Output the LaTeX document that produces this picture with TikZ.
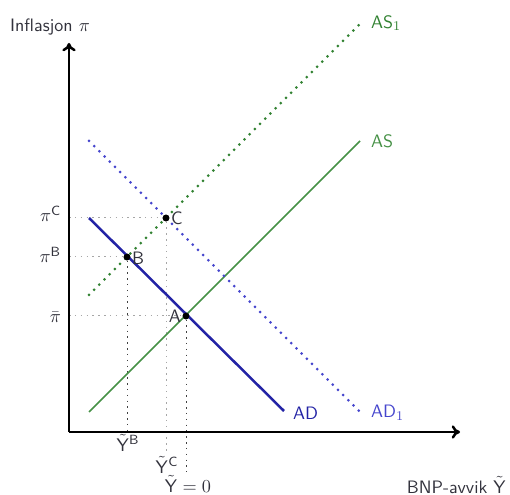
\documentclass[tikz,border=0pt]{standalone}
\usetikzlibrary{arrows.meta}
\definecolor{adblue}{RGB}{35,35,165}
\definecolor{ad1blue}{RGB}{70,70,205}
\definecolor{asgreen}{RGB}{70,145,70}
\definecolor{as1green}{RGB}{50,130,50}
\definecolor{txt}{RGB}{50,50,60}
\newcommand{\tY}{\tilde{\mathsf{Y}}}
\begin{document}
\begin{tikzpicture}[x=0.6pt,y=-0.6pt,
  every node/.style={font=\sffamily\fontsize{10.8}{12}\selectfont, text=txt, inner sep=1pt},
  axis/.style={line width=1.5pt, -{To[length=5pt,width=8pt]}},
  dotcurve/.style={line width=1.8pt, line cap=round, dash pattern=on 0pt off 4.4pt},
  guide/.style={gray!70, line width=0.6pt, dash pattern=on 0.9pt off 2.6pt},
  guidedark/.style={black!75, line width=0.6pt, dash pattern=on 0.9pt off 2.6pt},
  pt/.style={circle, fill=black, inner sep=0pt, minimum size=4pt}
]
\useasboundingbox (0,0) rectangle (510,495);
% axes
\coordinate (O) at (69,432);
\coordinate (ytop) at (69,43);
\coordinate (xend) at (460,432);
% curve end points
\coordinate (as0) at (89,412);  \coordinate (as1) at (360,141);
\coordinate (asd0) at (89,295); \coordinate (asd1) at (362,22);
\coordinate (ad0) at (89,218);  \coordinate (ad1) at (284,411);
\coordinate (add0) at (89,141); \coordinate (add1) at (361,413);
% axis feet
\coordinate (yA) at (69,316); \coordinate (yB) at (69,257); \coordinate (yC) at (69,218);
\coordinate (xA) at (186,472); \coordinate (xB) at (127,432); \coordinate (xC) at (166,453);
% points
\node[pt] (A) at (186,316) {};
\node[pt] (B) at (127,257) {};
\node[pt] (C) at (166,218) {};
% guide lines
\draw[guide] (yA) -- (A);
\draw[guide] (yB) -- (B);
\draw[guide] (yC) -- (C);
\draw[guidedark] (A) -- (xA);
\draw[guidedark] (B) -- (xB);
\draw[guide] (C) -- (xC);
% curves
\draw[asgreen, line width=0.9pt] (as0) -- (as1);
\draw[as1green, dotcurve] (asd0) -- (asd1);
\draw[ad1blue, dotcurve] (add0) -- (add1);
\draw[adblue, line width=1.5pt] (ad0) -- (ad1);
% axes
\draw[axis] (O) -- (ytop);
\draw[axis] (O) -- (xend);
% redraw points on top
\node[pt] at (A) {};
\node[pt] at (B) {};
\node[pt] at (C) {};
% labels
\node (lA) [left] at (183,316) {A};
\node (lB) [right] at (130,258) {B};
\node (lC) [right] at (169,218) {C};
\node (ly) at (50,27) {Inflasjon $\pi$};
\node (lx) [anchor=east] at (508,485) {BNP-avvik $\tY$};
\node (lpC) [anchor=east] at (63,214) {$\pi^{\mathsf{C}}$};
\node (lpB) [anchor=east] at (63,255) {$\pi^{\mathsf{B}}$};
\node (lpA) [anchor=east] at (63,317) {$\bar\pi$};
\node (lxB) at (128,443) {$\tY^{\mathsf{B}}$};
\node (lxC) at (167,465) {$\tY^{\mathsf{C}}$};
\node (lxA) at (188,484) {$\tY = 0$};
\node[text=asgreen, anchor=west] (las) at (369,141) {AS};
\node[text=as1green, anchor=west] (las1) at (369,23) {AS$_1$};
\node[text=adblue, anchor=west] (lad) at (291,413) {AD};
\node[text=ad1blue, anchor=west] (lad1) at (369,413) {AD$_1$};
\end{tikzpicture}
\end{document}
